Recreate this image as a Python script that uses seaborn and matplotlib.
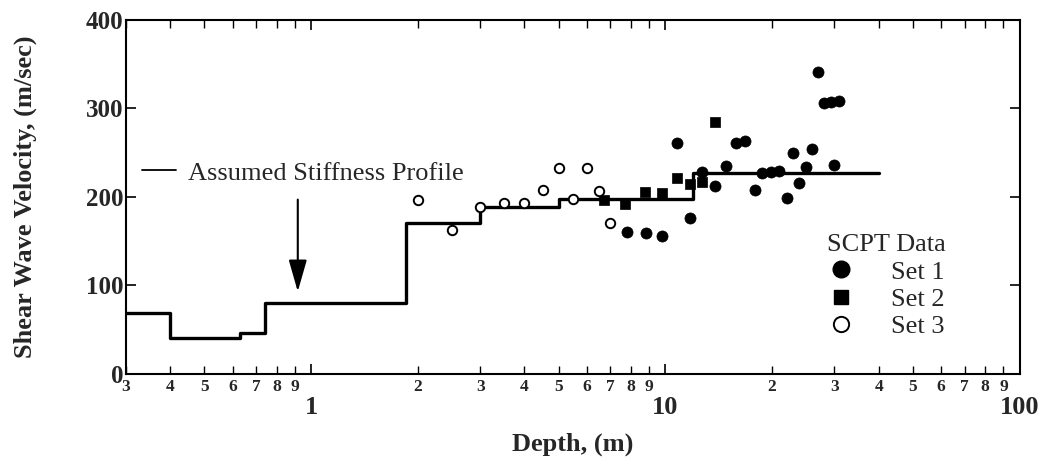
import matplotlib as mpl
mpl.use('Agg')
import matplotlib.pyplot as plt
import matplotlib.ticker as mticker
from matplotlib.lines import Line2D
import pandas as pd
import seaborn as sns


# assumed stiffness profile (layer boundaries, last value repeated for the step end)
profile_depth = [0.3, 0.4, 0.63, 0.74, 1.85, 3.0, 5.0, 12.0, 40.0]
profile_vs = [69, 41, 46, 80, 171, 189, 198, 227, 227]

# SCPT data, depth (m) and shear wave velocity (m/sec)
set1_depth = [7.8, 8.8, 9.8, 10.8, 11.7, 12.7, 13.8, 14.8, 15.8, 16.8, 17.9, 18.8,
              19.9, 20.9, 22.0, 22.9, 23.9, 25.0, 26.0, 26.9, 28.1, 29.4, 31.0, 30.0]
set1_vs = [160, 159, 156, 261, 176, 228, 212, 235, 261, 263, 208, 227,
           228, 229, 199, 250, 216, 234, 254, 341, 306, 307, 308, 236]
set2_depth = [6.7, 7.7, 8.75, 9.8, 10.8, 11.7, 12.7, 13.8]
set2_vs = [196, 192, 206, 205, 221, 215, 217, 285]
set3_depth = [2.0, 2.5, 3.0, 3.5, 4.0, 4.5, 5.0, 5.5, 6.0, 6.5, 7.0]
set3_vs = [197, 163, 189, 193, 193, 208, 233, 198, 233, 207, 171]

sns.set_style('ticks')
plt.rcParams['font.family'] = ['Liberation Serif', 'DejaVu Serif']
plt.rcParams['axes.linewidth'] = 1.5

fig = plt.figure(figsize=(10.49, 4.65), dpi=100)
ax = fig.add_axes([0.120, 0.196, 0.852, 0.761])

profile = pd.DataFrame({'depth': profile_depth, 'vs': profile_vs})
sns.lineplot(data=profile, x='depth', y='vs', ax=ax, drawstyle='steps-post',
             estimator=None, color='black', lw=2.4)

sns.scatterplot(x=set1_depth, y=set1_vs, ax=ax, marker='o', s=64,
                color='black', edgecolor='black', linewidth=0.5, zorder=3)
sns.scatterplot(x=set2_depth, y=set2_vs, ax=ax, marker='s', s=46,
                color='black', edgecolor='black', linewidth=0.5, zorder=3)
sns.scatterplot(x=set3_depth, y=set3_vs, ax=ax, marker='o', s=46,
                facecolor='white', edgecolor='black', linewidth=1.4, zorder=3)

ax.set_xscale('log')
ax.set_xlim(0.3, 100)
ax.set_ylim(0, 400)

ax.xaxis.set_major_locator(mticker.LogLocator(base=10))
ax.xaxis.set_minor_locator(mticker.LogLocator(base=10, subs=range(2, 10)))
ax.xaxis.set_major_formatter(mticker.FuncFormatter(lambda v, p: f'{v:g}'))


def minor_label(v, pos):
    s = f'{v:.1e}'
    return s[0]


ax.xaxis.set_minor_formatter(mticker.FuncFormatter(minor_label))
ax.yaxis.set_major_locator(mticker.MultipleLocator(100))
ax.yaxis.set_minor_locator(mticker.NullLocator())

ax.tick_params(which='both', direction='in', top=True, right=True, color='black')
ax.tick_params(axis='x', which='major', length=7, width=1.2, pad=16, labelsize=19)
ax.tick_params(axis='x', which='minor', length=5.5, width=1.0, pad=4, labelsize=12.5)
ax.tick_params(axis='y', which='major', length=7, width=1.2, pad=2, labelsize=18)
for lab in ax.get_xticklabels(which='both') + ax.get_yticklabels():
    lab.set_fontweight('bold')

ax.set_xlabel('Depth, (m)', fontsize=19, fontweight='bold')
ax.set_ylabel('Shear Wave Velocity, (m/sec)', fontsize=19, fontweight='bold')
ax.xaxis.set_label_coords(0.5, -0.165)
ax.yaxis.set_label_coords(-0.100, 0.5)

for sp in ax.spines.values():
    sp.set_color('black')

# profile key at upper left
leg1 = ax.legend(handles=[Line2D([], [], color='black', lw=1.3)],
                 labels=['Assumed Stiffness Profile'],
                 loc='center left', bbox_to_anchor=(0.018, 0.568),
                 frameon=False, fontsize=19, handlelength=1.3, handletextpad=0.45,
                 borderpad=0, borderaxespad=0)
ax.add_artist(leg1)

ax.annotate('', xy=(0.917, 93), xytext=(0.917, 197),
            arrowprops=dict(arrowstyle='-|>,head_length=1.4,head_width=0.4',
                            mutation_scale=14, lw=1.5, color='black',
                            shrinkA=0, shrinkB=0))

handles = [
    Line2D([], [], ls='none', marker='o', ms=12, mfc='black', mec='black'),
    Line2D([], [], ls='none', marker='s', ms=10, mfc='black', mec='black'),
    Line2D([], [], ls='none', marker='o', ms=11, mfc='white', mec='black', mew=1.4),
]
leg2 = ax.legend(handles=handles, labels=['Set 1', 'Set 2', 'Set 3'],
                 title='SCPT Data', title_fontsize=19, fontsize=19,
                 loc='upper left', bbox_to_anchor=(0.785, 0.395),
                 frameon=False, handlelength=1.0, handletextpad=1.4,
                 labelspacing=0.15, borderpad=0, borderaxespad=0, alignment='left')

fig.savefig('out.png', dpi=100)
